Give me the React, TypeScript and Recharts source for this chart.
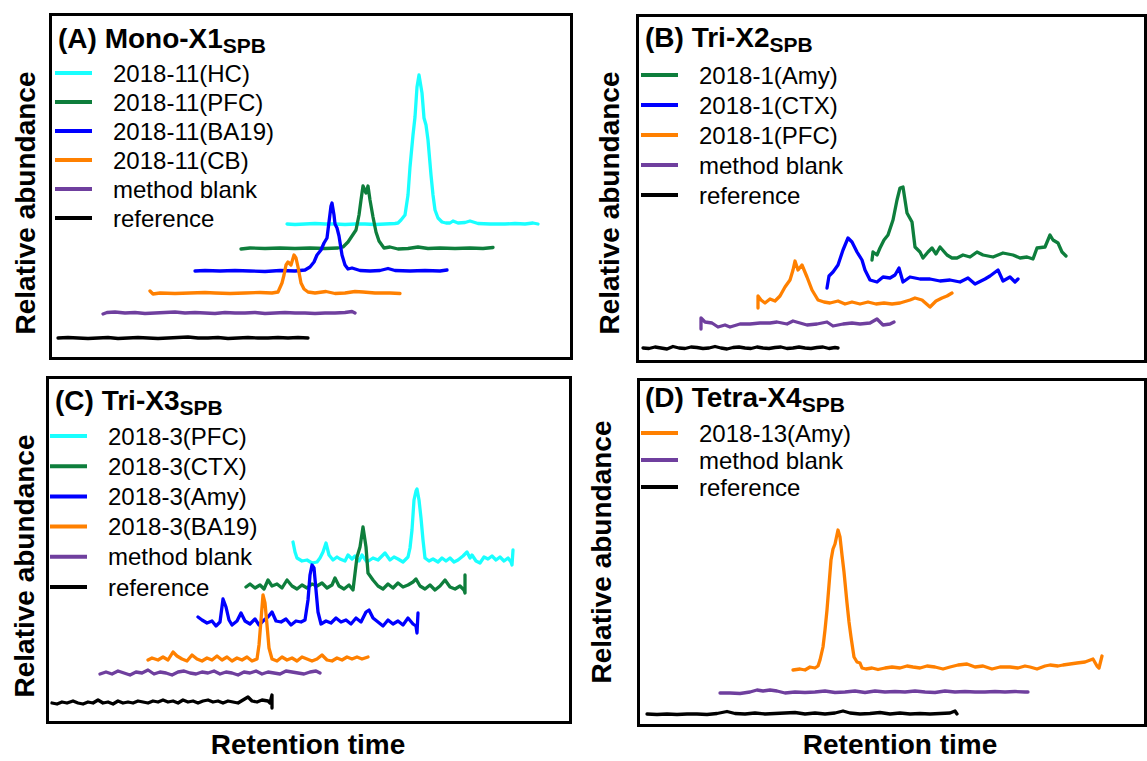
import React from 'react';
import { LineChart, Line, XAxis, YAxis, Legend } from 'recharts';

type Pt = [number, number];

// ---------------- Panel A : Mono-X1 (retention time, relative abundance) ----------------
const A_NAMES = ['2018-11(HC)', '2018-11(PFC)', '2018-11(BA19)', '2018-11(CB)', 'method blank', 'reference'];
const A_HC: Pt[] = [[237,134],[245,133.5],[255,134],[265,134.5],[275,134],[285,134],[295,133.5],[305,134],[315,134],[325,133.5],[335,134],[345,134.5],[348,135],[351,138],[355,143],[358,163],[360,191],[363,223],[365,241],[367,271],[369,283],[372,265],[374,240],[376,233],[378,218],[381,183],[383,163],[385,148],[388,140],[392,136],[396,135],[400,135],[403,137],[408,135],[415,135.5],[420,137],[428,134.5],[440,134],[455,134],[465,134.5],[475,134],[483,135],[488,134]];
const A_PFC: Pt[] = [[191,109],[200,110],[215,109.5],[230,110],[245,109.5],[260,110],[275,109.5],[288,110],[293,111],[298,116],[302,122],[306,128],[309,143],[311,158],[313,172],[316,165],[318,172],[320,158],[323,141],[326,126],[329,117],[334,110],[340,111],[348,109],[358,109.5],[368,111],[378,109.5],[390,110],[405,109.5],[420,110],[433,109.5],[443,110.5]];
const A_BA19: Pt[] = [[145,87],[155,87.5],[170,87],[185,87.5],[200,87],[215,86.5],[230,87.5],[245,87],[255,88],[260,91],[264,96],[267,103],[271,108],[274,115],[277,120],[279,136],[281,152],[282,155],[284,143],[285,134],[287,130],[289,122],[292,103],[295,93],[298,89],[302,90],[310,87.5],[320,87],[330,87.5],[338,89.5],[345,87.5],[360,87],[375,87.5],[390,87],[397,88]];
const A_CB: Pt[] = [[100,67],[103,64],[110,65],[125,64.5],[140,65],[155,65.5],[165,65],[180,64.5],[195,65],[210,65.5],[222,65],[228,66],[232,75],[234,83],[236,93],[238,96],[241,93],[244,103],[246,100],[248,91],[251,75],[254,69],[258,66],[265,65],[276,66.5],[285,64.5],[295,65],[305,66.5],[313,66],[325,65],[340,65],[350,64.5]];
const A_BLANK: Pt[] = [[53,44],[57,45.5],[65,46],[75,45],[85,45.5],[95,44.5],[105,45],[115,45.5],[125,46],[135,45],[145,45.5],[155,45],[165,44.5],[175,45.5],[185,45],[195,45],[205,45.5],[215,44.5],[225,45],[235,45.5],[245,45],[255,45],[265,44.5],[275,45],[285,45],[295,45.5],[302,46.5],[305,45]];
const A_REF: Pt[] = [[8,20],[18,20.5],[28,20],[38,19.5],[48,20],[58,20.5],[68,19.5],[78,20],[88,20.5],[98,20],[108,19.5],[118,20],[128,20.5],[138,21],[148,20],[158,20],[168,20.5],[178,19.5],[188,20],[198,20.5],[208,20],[218,20],[228,20.5],[238,20],[248,20.5],[258,20]];

// ---------------- Panel B : Tri-X2 ----------------
const B_NAMES = ['2018-1(Amy)', '2018-1(CTX)', '2018-1(PFC)', 'method blank', 'reference'];
const B_AMY: Pt[] = [[235,101],[236,109],[240,106],[243,113],[247,121],[251,126],[256,141],[260,161],[263,173],[266,174],[268,161],[270,148],[275,139],[278,114],[283,109],[286,103],[291,109],[295,113],[299,107],[303,114],[310,106],[315,103],[320,103],[326,106],[333,104],[340,109],[346,106],[356,104],[366,108],[376,106],[383,103],[390,104],[396,102],[400,113],[408,114],[413,126],[416,121],[421,118],[425,109],[429,105]];
const B_CTX: Pt[] = [[190,73],[192,85],[196,89],[201,96],[206,111],[211,123],[215,119],[220,109],[225,101],[228,91],[233,81],[240,79],[246,84],[253,83],[258,86],[262,93],[266,79],[273,84],[283,82],[293,82],[303,80],[313,81],[323,79],[331,83],[338,77],[348,82],[353,85],[361,91],[366,80],[373,84],[378,79],[381,82]];
const B_PFC: Pt[] = [[121,53],[121,65],[124,61],[128,58],[133,62],[138,60],[143,65],[148,74],[153,81],[156,91],[158,100],[161,91],[165,96],[170,84],[175,71],[181,61],[187,59],[193,58],[201,60],[208,57],[215,59],[223,57],[231,59],[239,57],[247,58],[255,57],[263,58],[273,61],[278,63],[285,61],[293,54],[299,60],[305,63],[310,65],[315,68]];
const B_BLANK: Pt[] = [[64,32],[64,43],[68,39],[75,38],[81,34],[88,36],[93,34],[103,37],[113,37],[123,38],[133,38],[140,39],[150,37],[156,40],[163,38],[170,36],[180,37],[190,39],[196,35],[206,37],[215,38],[223,37],[233,38],[240,42],[246,36],[253,37],[257,39]];
const B_REF: Pt[] = [[6,13],[12,12.5],[18,14],[24,13],[30,12],[36,14.5],[42,13],[48,12.5],[54,14],[60,13.5],[66,12.5],[72,13],[78,14.5],[84,13],[90,12],[96,13.5],[102,14],[108,13],[114,12.5],[120,14],[126,13],[132,12.5],[138,13.5],[144,14],[150,12.5],[156,13],[162,14],[168,13],[174,12.5],[180,13.5],[186,14],[192,12.5],[198,13.5],[201,13]];

// ---------------- Panel C : Tri-X3 ----------------
const C_NAMES = ['2018-3(PFC)', '2018-3(CTX)', '2018-3(Amy)', '2018-3(BA19)', 'method blank', 'reference'];
const C_PFC: Pt[] = [[246,180],[248,170],[250,164],[255,161],[260,162],[265,159],[270,160],[273,164],[276,170],[279,179],[282,167],[286,162],[290,165],[293,163],[298,161],[301,167],[305,163],[308,166],[312,161],[315,167],[320,160],[326,164],[331,162],[335,166],[338,169],[343,162],[347,165],[351,163],[356,160],[361,165],[363,174],[365,192],[367,222],[369,231],[370,233],[372,222],[374,204],[376,182],[378,164],[382,161],[386,163],[391,160],[395,164],[399,161],[403,164],[407,160],[411,162],[416,166],[420,170],[423,164],[425,167],[429,161],[433,159],[437,165],[441,163],[445,166],[449,162],[453,165],[457,161],[461,164],[464,160],[465,157],[466,172]];
const C_CTX: Pt[] = [[199,135],[203,138],[208,134],[213,137],[217,133],[221,142],[225,136],[230,138],[235,134],[240,142],[245,136],[250,133],[255,137],[260,134],[265,138],[270,136],[275,139],[280,134],[285,137],[288,144],[292,136],[297,133],[302,137],[306,132],[310,165],[313,175],[316,195],[319,175],[321,149],[326,142],[331,136],[336,133],[341,138],[346,134],[351,139],[356,135],[361,137],[366,140],[369,143],[373,136],[378,133],[383,137],[388,132],[393,136],[398,142],[403,135],[408,133],[413,136],[417,132],[418,129],[418,147]];
const C_AMY: Pt[] = [[151,105],[155,102],[160,99],[165,101],[169,96],[173,100],[176,123],[179,115],[182,102],[185,97],[190,101],[194,109],[198,101],[203,98],[208,103],[212,97],[217,102],[221,105],[225,110],[229,101],[234,100],[239,103],[244,97],[249,101],[254,100],[258,102],[261,122],[263,147],[265,157],[267,154],[269,132],[271,110],[274,98],[279,101],[284,99],[289,104],[294,100],[299,102],[304,98],[309,104],[314,100],[319,110],[322,112],[326,104],[331,100],[336,96],[341,102],[346,98],[351,101],[356,97],[361,104],[366,98],[369,96],[370,89],[371,109]];
const C_BA19: Pt[] = [[101,62],[105,64],[111,62],[116,65],[121,62],[126,70],[130,66],[135,63],[140,61],[145,67],[150,63],[155,61],[160,64],[165,62],[170,66],[175,62],[180,65],[185,61],[190,64],[195,62],[200,65],[205,61],[210,63],[212,77],[214,102],[216,127],[218,119],[220,97],[222,74],[225,63],[230,61],[235,65],[240,62],[245,64],[250,61],[255,65],[260,63],[265,61],[270,63],[275,67],[280,62],[285,61],[290,64],[295,62],[300,65],[305,63],[310,65],[315,63],[321,65]];
const C_BLANK: Pt[] = [[53,48],[59,50],[65,48],[71,51],[77,49],[83,47],[89,50],[95,49],[101,52],[107,48],[113,50],[119,49],[125,47],[131,50],[137,51],[143,49],[149,48],[155,50],[161,49],[167,51],[173,48],[179,50],[185,49],[191,47],[197,50],[203,49],[209,51],[215,48],[221,50],[227,49],[233,48],[239,51],[245,50],[251,49],[257,48],[263,50],[269,51],[273,49]];
const C_REF: Pt[] = [[5,19],[10,18],[15,20],[20,19],[26,21],[31,19],[36,18],[41,20],[46,19],[51,22],[56,19],[61,20],[66,18],[71,21],[76,19],[81,20],[86,19],[91,21],[96,20],[101,19],[106,21],[111,20],[116,22],[121,20],[126,21],[131,19],[136,22],[141,20],[146,21],[151,19],[156,21],[161,22],[166,20],[171,21],[176,19],[181,21],[186,20],[191,19],[196,22],[201,25],[205,21],[210,20],[215,22],[221,21],[223,19],[225,27],[225,14]];

// ---------------- Panel D : Tetra-X4 ----------------
const D_NAMES = ['2018-13(Amy)', 'method blank', 'reference'];
const D_AMY: Pt[] = [[155,55],[162,56],[167,55],[172,58],[177,57],[180,59],[182,65],[185,78],[187,95],[189,115],[191,140],[193,165],[195,176],[197,181],[200,195],[202,188],[204,170],[206,153],[209,122],[211,103],[213,88],[216,68],[219,63],[222,62],[224,57],[228,56],[234,57],[240,55.5],[247,57],[254,58],[262,57],[269,59],[275,58],[282,57],[289,59],[297,58],[305,56],[312,58],[320,60],[329,61],[337,58],[345,59],[354,56],[362,58],[372,58],[380,57],[387,59],[392,58],[399,56],[407,59],[412,60],[420,59],[425,60],[432,61],[439,62],[447,63],[455,66],[459,59],[461,57],[463,65],[464,69]];
const D_BLANK: Pt[] = [[82,32],[92,32],[102,31.5],[112,33],[119,35],[125,34],[132,35],[139,34],[147,32],[157,33],[167,32.5],[177,33],[187,34],[197,32.5],[207,33],[217,34],[227,32.5],[237,34],[247,33],[257,33.5],[267,33],[277,34],[287,33],[297,32.5],[307,34],[317,33],[327,33.5],[337,33],[347,33],[357,33.5],[367,33],[377,33.5],[387,33],[390,33]];
const D_REF: Pt[] = [[9,11],[19,10.5],[29,11],[39,10.5],[49,11],[59,11],[69,10.5],[79,11.5],[89,13.5],[97,11.5],[107,11],[117,12],[127,11],[137,11.5],[147,12],[157,12.5],[167,11],[177,12],[187,11],[197,12],[205,14],[212,12],[222,11],[232,11.5],[242,12.5],[252,11],[262,12],[272,11],[282,11.5],[292,11],[302,11.5],[312,12],[317,14],[319,11]];

// ---------------- styling ----------------
const CYAN = '#19FFFF';
const GREEN = '#0E7E3C';
const BLUE = '#0000FF';
const ORANGE = '#FF8000';
const PURPLE = '#6F3F9E';
const BLACK = '#000000';
const FONT = "'Liberation Sans', Arial, Helvetica, sans-serif";

interface SeriesDef { name: string; color: string; points: Pt[] }
interface PanelDef {
  id: string; title: string; sub: string;
  left: number; top: number; right: number; bottom: number;
  series: SeriesDef[];
  legendX: number; legendY: number; legendStep: number;
  titleX: number; titleY: number;
  yLabelX: number; yLabelY: number;
}

const mk = (names: string[], colors: string[], pts: Pt[][]): SeriesDef[] =>
  names.map((n, i) => ({ name: n, color: colors[i], points: pts[i] }));

const PANELS: PanelDef[] = [
  { id: 'A', title: '(A) Mono-X1', sub: 'SPB', left: 50, top: 14, right: 571, bottom: 358,
    series: mk(A_NAMES, [CYAN, GREEN, BLUE, ORANGE, PURPLE, BLACK], [A_HC, A_PFC, A_BA19, A_CB, A_BLANK, A_REF]),
    legendX: 55, legendY: 73, legendStep: 29, titleX: 58, titleY: 48, yLabelX: 35, yLabelY: 203 },
  { id: 'B', title: '(B) Tri-X2', sub: 'SPB', left: 637, top: 15, right: 1145, bottom: 361,
    series: mk(B_NAMES, [GREEN, BLUE, ORANGE, PURPLE, BLACK], [B_AMY, B_CTX, B_PFC, B_BLANK, B_REF]),
    legendX: 641, legendY: 75, legendStep: 30, titleX: 645, titleY: 47, yLabelX: 619, yLabelY: 203 },
  { id: 'C', title: '(C) Tri-X3', sub: 'SPB', left: 47, top: 377, right: 570, bottom: 722,
    series: mk(C_NAMES, [CYAN, GREEN, BLUE, ORANGE, PURPLE, BLACK], [C_PFC, C_CTX, C_AMY, C_BA19, C_BLANK, C_REF]),
    legendX: 50, legendY: 436, legendStep: 30.2, titleX: 55, titleY: 410, yLabelX: 34, yLabelY: 566 },
  { id: 'D', title: '(D) Tetra-X4', sub: 'SPB', left: 638, top: 379, right: 1145, bottom: 725,
    series: mk(D_NAMES, [ORANGE, PURPLE, BLACK], [D_AMY, D_BLANK, D_REF]),
    legendX: 641, legendY: 433, legendStep: 27, titleX: 645, titleY: 407, yLabelX: 611, yLabelY: 552 },
];

const makeLegend = (step: number) => (props: any) => {
  const payload: any[] = props.payload || [];
  return (
    <svg width={280} height={step * payload.length + 12} style={{ display: 'block', overflow: 'visible' }}>
      {payload.map((p, i) => (
        <g key={i}>
          <line x1={0} x2={37} y1={6 + i * step} y2={6 + i * step} stroke={p.color} strokeWidth={4} />
          <text x={58} y={6 + i * step + 8.5} fontSize={24} fontFamily={FONT} fill="#000">{p.value}</text>
        </g>
      ))}
    </svg>
  );
};

const Panel: React.FC<{ p: PanelDef }> = ({ p }) => {
  const W = p.right - p.left;
  const H = p.bottom - p.top;
  const names = p.series.map((s) => s.name);
  return (
    <>
      <div style={{ position: 'absolute', left: p.left, top: p.top, width: W, height: H }}>
        <LineChart width={W} height={H} margin={{ top: 0, right: 0, bottom: 0, left: 0 }}>
          <XAxis type="number" dataKey="x" domain={[0, W]} allowDataOverflow hide />
          <YAxis type="number" dataKey="y" domain={[0, H]} allowDataOverflow hide />
          <Legend
            layout="vertical"
            align="center"
            verticalAlign="middle"
            itemSorter={(item: any) => names.indexOf(item.value)}
            wrapperStyle={{ left: p.legendX - p.left, top: p.legendY - 6 - p.top, width: 280 }}
            content={makeLegend(p.legendStep)}
          />
          {p.series.map((s) => (
            <Line
              key={s.name}
              name={s.name}
              data={s.points.map(([x, y]) => ({ x, y }))}
              dataKey="y"
              type="linear"
              stroke={s.color}
              strokeWidth={3.3}
              strokeLinejoin="round"
              strokeLinecap="round"
              dot={false}
              activeDot={false}
              isAnimationActive={false}
            />
          ))}
        </LineChart>
      </div>
      <div
        style={{
          position: 'absolute', left: p.left - 1.5, top: p.top - 1.5, width: W + 3, height: H + 3,
          border: '3px solid #000', boxSizing: 'border-box', pointerEvents: 'none',
        }}
      />
    </>
  );
};

export default function App() {
  return (
    <div style={{ position: 'absolute', left: 0, top: 0, width: 1147, height: 761, background: '#fff', overflow: 'hidden' }}>
      {PANELS.map((p) => (
        <Panel key={p.id} p={p} />
      ))}
      <svg width={1147} height={761} style={{ position: 'absolute', left: 0, top: 0, pointerEvents: 'none' }}>
        {PANELS.map((p) => (
          <g key={p.id} fontFamily={FONT} fontWeight="bold" fill="#000">
            <text x={p.titleX} y={p.titleY} fontSize={28}>
              {p.title}
              <tspan fontSize={21} dy={5}>{p.sub}</tspan>
            </text>
            <text
              x={p.yLabelX}
              y={p.yLabelY}
              fontSize={28}
              textAnchor="middle"
              transform={`rotate(-90 ${p.yLabelX} ${p.yLabelY})`}
            >
              Relative abundance
            </text>
          </g>
        ))}
        <g fontFamily={FONT} fontWeight="bold" fontSize={28} fill="#000" textAnchor="middle">
          <text x={308} y={754}>Retention time</text>
          <text x={900} y={754}>Retention time</text>
        </g>
      </svg>
    </div>
  );
}
